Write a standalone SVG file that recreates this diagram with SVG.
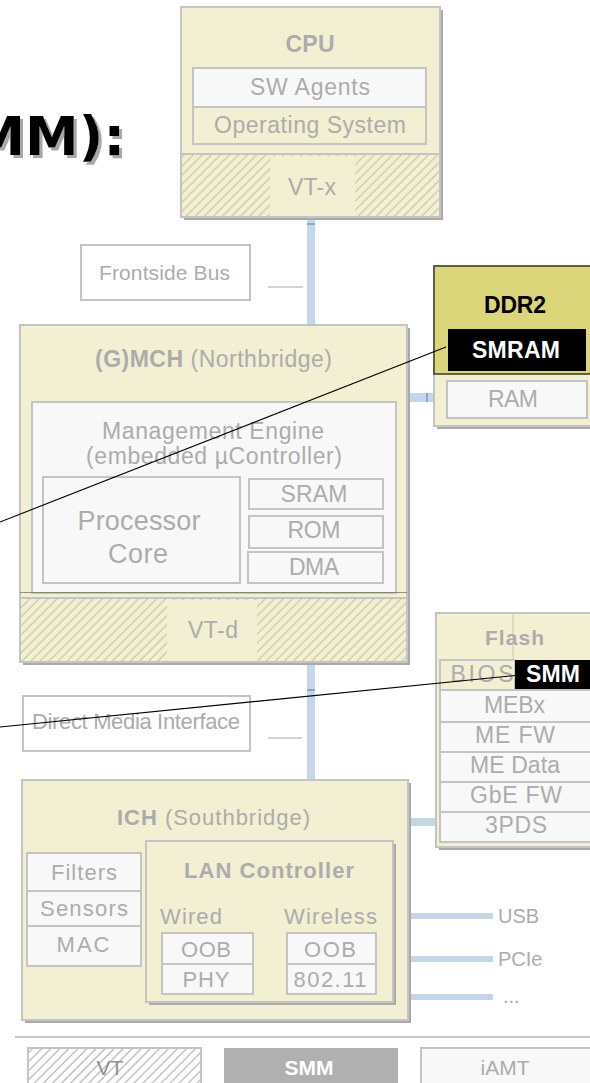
<svg xmlns="http://www.w3.org/2000/svg" width="590" height="1083" viewBox="0 0 590 1083">
  <defs>
    <!-- diagonal hatch used for the virtualization (VT) areas -->
    <pattern id="hatch" width="6.4" height="6.4" patternUnits="userSpaceOnUse" patternTransform="rotate(45)">
      <rect width="6.4" height="6.4" fill="#f2efd3"/>
      <line x1="3" y1="-1" x2="3" y2="8" stroke="#c9c5a6" stroke-width="1.2"/>
    </pattern>
    <pattern id="hatch-legend" width="6.4" height="6.4" patternUnits="userSpaceOnUse" patternTransform="rotate(45)">
      <rect width="6.4" height="6.4" fill="#ffffff"/>
      <line x1="3" y1="-1" x2="3" y2="8" stroke="#b4b4b4" stroke-width="1.2"/>
    </pattern>
    <!-- hard grey drop shadow for the heading -->
    <filter id="drop" x="-10%" y="-10%" width="130%" height="130%">
      <feOffset in="SourceAlpha" dx="3" dy="3" result="off"/>
      <feFlood flood-color="#a8a8a8"/>
      <feComposite in2="off" operator="in" result="sh"/>
      <feMerge>
        <feMergeNode in="sh"/>
        <feMergeNode in="SourceGraphic"/>
      </feMerge>
    </filter>
  </defs>
  <style>
    .box{fill:#f2efd3;stroke:#c4c4c4;stroke-width:2}
    .shadow{fill:#aaaaaa}
    .inner{fill:#f8f8f8;stroke:#c4c4c4;stroke-width:2}
    .plain{fill:#ffffff;stroke:#c4c4c4;stroke-width:2}
    .sep{stroke:#c4c4c4;stroke-width:2}
    .t{font-family:"Liberation Sans",Arial,sans-serif;fill:#acacac;text-anchor:middle}
    .s{text-anchor:start}
    .b{font-weight:bold}
    .w{fill:#ffffff}
    .k{fill:#000000}
    .bus{fill:#c5d7e7}
    .tick{stroke:#6e9cc6;stroke-width:1.5}
    .lead{stroke:#000000;stroke-width:1.1;fill:none}
    .stub{stroke:#c4c4c4;stroke-width:1.5}
  </style>

  <rect width="590" height="1083" fill="#ffffff"/>

  <!-- heading fragment -->
  <g id="heading">
    <text x="125" y="155" font-family="'DejaVu Sans',Verdana,sans-serif" font-weight="bold" font-size="54" text-anchor="end" fill="#000000" filter="url(#drop)">MM):</text>
  </g>

  <!-- buses between the chips -->
  <g id="connectors">
    <rect class="bus" x="307" y="219" width="8" height="107"/>
    <line class="tick" x1="307" y1="224" x2="315" y2="224"/>
    <rect class="bus" x="408" y="393" width="27" height="9"/>
    <line class="tick" x1="427" y1="393" x2="427" y2="402"/>
    <rect class="bus" x="307" y="664" width="8" height="117"/>
    <line class="tick" x1="307" y1="690" x2="315" y2="690"/>
    <rect class="bus" x="409" y="818" width="28" height="8"/>
    <rect class="bus" x="409" y="913" width="84" height="6"/>
    <rect class="bus" x="409" y="956" width="84" height="6"/>
    <rect class="bus" x="409" y="994" width="84" height="6"/>
    <line class="stub" x1="268" y1="287" x2="303" y2="287"/>
    <line class="stub" x1="268" y1="738" x2="302" y2="738"/>
  </g>

  <g id="cpu">
    <rect class="shadow" x="184" y="10" width="259" height="210"/>
    <rect class="box" x="181" y="7" width="259" height="210"/>
    <text class="t b" x="310" y="52" font-size="23" textLength="49">CPU</text>
    <rect class="inner" x="193" y="68" width="233" height="39"/>
    <text class="t" x="310" y="95" font-size="23" textLength="120">SW Agents</text>
    <rect class="box" x="193" y="107" width="233" height="37"/>
    <text class="t" x="310" y="133" font-size="23" textLength="192">Operating System</text>
    <rect x="182" y="155" width="257" height="61" fill="url(#hatch)"/>
    <line class="sep" x1="181" y1="154" x2="440" y2="154"/>
    <rect x="270" y="156" width="85" height="60" fill="#f2efd3"/>
    <text class="t" x="312" y="195" font-size="23" textLength="48">VT-x</text>
  </g>

  <g id="frontside-bus">
    <rect class="plain" x="81" y="245" width="169" height="55"/>
    <text class="t" x="164.5" y="280" font-size="21" textLength="131">Frontside Bus</text>
  </g>

  <g id="ddr2">
    <rect class="shadow" x="437" y="269" width="170" height="160"/>
    <rect class="box" x="434" y="266" width="170" height="160"/>
    <rect x="434" y="266" width="170" height="108" fill="#dcd67b" stroke="#3a3a2a" stroke-width="1.5"/>
    <text class="t b k" x="515" y="313" font-size="23" textLength="62">DDR2</text>
    <rect x="448" y="329" width="138" height="42" fill="#000000"/>
    <text class="t b w" x="516" y="358" font-size="23" textLength="88">SMRAM</text>
    <rect class="inner" x="447" y="381" width="140" height="37"/>
    <text class="t" x="513" y="407" font-size="23" textLength="50">RAM</text>
  </g>

  <g id="northbridge">
    <rect class="shadow" x="23" y="328" width="387" height="337"/>
    <rect class="box" x="20" y="325" width="387" height="337"/>
    <text class="t" x="213.5" y="367" font-size="23" textLength="237"><tspan class="b">(G)MCH</tspan> (Northbridge)</text>
    <rect class="inner" x="32" y="402" width="364" height="191"/>
    <text class="t" x="213" y="439" font-size="23" textLength="222">Management Engine</text>
    <text class="t" x="214" y="464" font-size="23" textLength="256">(embedded µController)</text>
    <rect class="inner" x="43" y="477" width="197" height="106"/>
    <text class="t" x="139" y="530" font-size="27" textLength="123">Processor</text>
    <text class="t" x="138" y="563" font-size="27" textLength="60">Core</text>
    <rect class="inner" x="249" y="479" width="134" height="30"/>
    <text class="t" x="314" y="502" font-size="23" textLength="67">SRAM</text>
    <rect class="inner" x="249" y="516" width="134" height="32"/>
    <text class="t" x="314" y="538" font-size="23" textLength="53">ROM</text>
    <rect class="inner" x="248" y="552" width="135" height="31"/>
    <text class="t" x="314" y="575" font-size="23" textLength="50">DMA</text>
    <line x1="20" y1="592.5" x2="407" y2="592.5" stroke="#6d6b5c" stroke-width="1" opacity="0.7"/>
    <rect x="21" y="598" width="385" height="63" fill="url(#hatch)"/>
    <line class="sep" x1="20" y1="598" x2="407" y2="598"/>
    <rect x="167" y="600" width="90" height="61" fill="#f2efd3"/>
    <text class="t" x="213" y="638" font-size="23" textLength="50">VT-d</text>
  </g>

  <g id="flash">
    <rect class="shadow" x="439" y="616" width="170" height="234"/>
    <rect class="box" x="436" y="613" width="170" height="234"/>
    <line x1="513" y1="613" x2="513" y2="660" stroke="#cdc8a0" stroke-width="1"/>
    <text class="t b" x="514.5" y="645" font-size="21" textLength="59">Flash</text>
    <rect class="box" x="440" y="660" width="75" height="30"/>
    <text class="t" x="482" y="682" font-size="23" textLength="63">BIOS</text>
    <rect x="515" y="660" width="85" height="30" fill="#000000"/>
    <text class="t b w" x="553" y="682" font-size="23" textLength="54">SMM</text>
    <rect class="inner" x="440" y="690" width="170" height="32"/>
    <text class="t" x="514.5" y="713" font-size="23" textLength="61">MEBx</text>
    <rect class="inner" x="440" y="722" width="170" height="30"/>
    <text class="t" x="515" y="743" font-size="23" textLength="80">ME FW</text>
    <rect class="inner" x="440" y="752" width="170" height="30"/>
    <text class="t" x="515" y="773" font-size="23" textLength="90">ME Data</text>
    <rect class="inner" x="440" y="782" width="170" height="30"/>
    <text class="t" x="516" y="803" font-size="23" textLength="92">GbE FW</text>
    <rect class="inner" x="440" y="812" width="170" height="30"/>
    <text class="t" x="516" y="833" font-size="23" textLength="62">3PDS</text>
  </g>

  <g id="dmi">
    <rect class="plain" x="23" y="696" width="227" height="55"/>
    <text class="t" x="136" y="729" font-size="22" textLength="208">Direct Media Interface</text>
  </g>

  <g id="southbridge">
    <rect class="shadow" x="25" y="783" width="386" height="240"/>
    <rect class="box" x="22" y="780" width="386" height="240"/>
    <text class="t" x="213.5" y="825" font-size="22" textLength="193"><tspan class="b">ICH</tspan> (Southbridge)</text>
    <rect class="inner" x="27" y="853" width="114" height="38"/>
    <text class="t" x="84" y="880" font-size="22" textLength="66">Filters</text>
    <rect class="inner" x="27" y="891" width="114" height="35"/>
    <text class="t" x="84" y="916" font-size="22" textLength="88">Sensors</text>
    <rect class="inner" x="27" y="926" width="114" height="40"/>
    <text class="t" x="83" y="952" font-size="22" textLength="53">MAC</text>
    <g id="lan-controller">
      <rect class="shadow" x="149" y="844" width="247" height="161"/>
      <rect class="box" x="146" y="841" width="247" height="161"/>
      <text class="t b" x="269" y="878" font-size="22" textLength="170">LAN Controller</text>
      <text class="t s" x="160" y="924" font-size="22" textLength="62">Wired</text>
      <text class="t s" x="284" y="924" font-size="22" textLength="93">Wireless</text>
      <rect class="inner" x="162" y="933" width="91" height="31"/>
      <text class="t" x="206" y="957" font-size="22" textLength="50">OOB</text>
      <rect class="inner" x="162" y="964" width="91" height="30"/>
      <text class="t" x="206" y="987" font-size="22" textLength="47">PHY</text>
      <rect class="inner" x="287" y="933" width="89" height="31"/>
      <text class="t" x="330" y="957" font-size="22" textLength="52">OOB</text>
      <rect class="inner" x="287" y="964" width="89" height="30"/>
      <text class="t" x="330" y="987" font-size="22" textLength="73">802.11</text>
    </g>
  </g>

  <g id="io-labels">
    <text class="t s" x="498" y="923" font-size="20">USB</text>
    <text class="t s" x="498" y="966" font-size="20">PCIe</text>
    <text class="t s" x="503" y="1003" font-size="20">...</text>
  </g>

  <!-- callout lines drawn over the chips -->
  <g id="callouts">
    <line class="lead" x1="446" y1="347" x2="0" y2="522"/>
    <line class="lead" x1="515" y1="675.5" x2="0" y2="727"/>
  </g>

  <g id="legend">
    <line x1="15" y1="1037" x2="590" y2="1037" stroke="#c8c8c8" stroke-width="2"/>
    <rect x="28" y="1048" width="173" height="45" fill="url(#hatch-legend)" stroke="#c4c4c4" stroke-width="2"/>
    <text class="t" x="110" y="1075" font-size="21" style="fill:#909090">VT</text>
    <rect x="224" y="1048" width="174" height="45" fill="#b0b0b0"/>
    <text class="t b w" x="309" y="1075" font-size="21">SMM</text>
    <rect class="inner" x="421" y="1048" width="180" height="45"/>
    <text class="t" x="505" y="1075" font-size="21">iAMT</text>
  </g>
</svg>
